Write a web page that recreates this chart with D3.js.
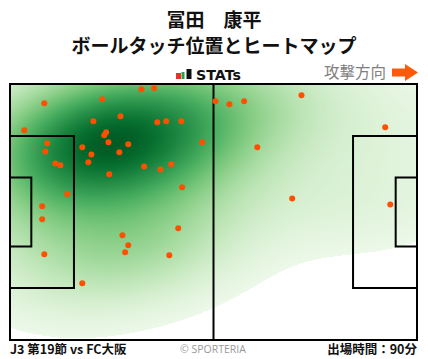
<!DOCTYPE html>
<html><head><meta charset="utf-8">
<script src="https://cdn.jsdelivr.net/npm/d3@7"></script>
<style>body{margin:0;background:#fff}svg{display:block}</style>
</head><body><svg id="c" width="428" height="359"></svg>
<script>
// ---- data (pitch coordinates in metres, 105 x 68, attacking to the right) ----
const titleLines = ["冨田　康平", "ボールタッチ位置とヒートマップ"];
const footerLeft = "J3 第19節 vs FC大阪";
const footerCenter = "© SPORTERIA";
const footerRight = "出場時間：90分";
const directionLabel = "攻撃方向";
const touchX = [8.85,23.8,33.9,37.2,3.69,21.5,28.5,38.0,40.3,44.2,24.8,24.3,25.4,30.5,9.6,9.1,18.65,21.0,28.2,20.2,11.7,13.0,34.6,38.8,41.6,49.6,25.6,44.4,14.8,8.3,8.3,53.0,56.6,60.4,75.2,96.8,63.8,72.8,98.1,29.0,30.5,29.7,43.4,8.85,41.1,18.65];
const touchY = [5.13,4.06,1.41,1.14,12.3,9.9,8.58,10.17,9.9,9.9,12.83,13.6,15.5,16.0,15.75,17.9,16.8,18.7,18.1,20.8,21.1,21.6,21.9,22.7,21.3,15.5,24.0,27.4,29.3,32.5,35.9,4.6,5.4,4.6,3.0,11.5,16.8,30.4,32.0,40.2,42.8,44.7,38.3,45.2,45.5,52.9];
const pitchLen = 105, pitchWid = 68;

const svg = d3.select("#c");
const x = d3.scaleLinear().domain([0, pitchLen]).range([10, 417]);
const y = d3.scaleLinear().domain([0, pitchWid]).range([84, 340]);
const JP = "'Noto Sans CJK JP','Noto Sans',sans-serif";

// ---- header ----
svg.selectAll("text.title").data(titleLines).join("text")
  .attr("x", 214).attr("y", (d,i)=> i===0 ? 27 : 53)
  .attr("text-anchor","middle").attr("font-family",JP).attr("font-weight",700)
  .attr("font-size",19).attr("fill","#111").text(d=>d);

// STATs logo
const logoBars = [{c:"#e8312a",h:6,w:5},{c:"#27a243",h:7,w:3},{c:"#111",h:10,w:5}];
let lx = 176;
logoBars.forEach((b,i)=>{
  svg.append("rect").attr("x",lx).attr("y",79-b.h).attr("width",b.w).attr("height",b.h).attr("fill",b.c);
  lx += b.w + (i===1?2:0.5);
});
svg.append("text").attr("x",196).attr("y",79.5).attr("font-family","'DejaVu Sans',sans-serif")
  .attr("font-weight",700).attr("font-size",14).attr("textLength",45).attr("lengthAdjust","spacingAndGlyphs")
  .attr("fill","#111").text("STATs");

svg.append("text").attr("x",386).attr("y",78).attr("text-anchor","end").attr("font-family",JP)
  .attr("font-size",15.5).attr("fill","#808080").text(directionLabel);
svg.append("path").attr("d","M392,68.5H405V64L418,72.5L405,81V76.5H392Z").attr("fill","#ff5a0a");

// ---- heatmap (gaussian KDE on the touches) ----
const px = touchX.map(x), py = touchY.map(y);
const n = px.length;
const mx = d3.mean(px), my = d3.mean(py);
let sxx=0, syy=0, sxy=0;
for (let i=0;i<n;i++){ const dx=px[i]-mx, dy=py[i]-my; sxx+=dx*dx; syy+=dy*dy; sxy+=dx*dy; }
sxx/=(n-1); syy/=(n-1); sxy/=(n-1);
const bwScale = 1.4;
const f2 = Math.pow(n, -2/6) * bwScale * bwScale;
const a = sxx*f2, b = sxy*f2, c = syy*f2;
const det = a*c - b*b;
const ia = c/det, ib = -b/det, ic = a/det;
const X0=10, Y0=84, PW=407, PH=256;
const canvas = document.createElement("canvas");
canvas.width = PW; canvas.height = PH;
const ctx = canvas.getContext("2d");
const img = ctx.createImageData(PW, PH);
const dens = new Float32Array(PW*PH);
let dmax = 0;
for (let j=0;j<PH;j++){
  for (let i=0;i<PW;i++){
    const gx = X0+i+0.5, gy = Y0+j+0.5;
    let s=0;
    for (let k=0;k<n;k++){
      const dx=gx-px[k], dy=gy-py[k];
      s += Math.exp(-0.5*(ia*dx*dx + 2*ib*dx*dy + ic*dy*dy));
    }
    dens[j*PW+i]=s; if (s>dmax) dmax=s;
  }
}
const thresh = 0.03;
for (let p=0;p<PW*PH;p++){
  const t = dens[p]/dmax;
  if (t < thresh) { img.data[p*4+3]=0; continue; }
  const u = (t - thresh)/(1-thresh);
  const col = d3.rgb(d3.interpolateGreens(0.07 + 0.86*Math.pow(u,0.85)));
  img.data[p*4]=col.r; img.data[p*4+1]=col.g; img.data[p*4+2]=col.b; img.data[p*4+3]=255;
}
ctx.putImageData(img,0,0);
svg.append("image").attr("x",X0).attr("y",Y0).attr("width",PW).attr("height",PH)
  .attr("href", canvas.toDataURL());

// ---- pitch lines ----
const lines = svg.append("g").attr("fill","none").attr("stroke","#000").attr("stroke-width",2);
lines.append("rect").attr("x",x(0)).attr("y",y(0)).attr("width",x(pitchLen)-x(0)).attr("height",y(pitchWid)-y(0));
lines.append("line").attr("x1",x(pitchLen/2)).attr("x2",x(pitchLen/2)).attr("y1",y(0)).attr("y2",y(pitchWid));
const boxes = [{d:16.5,w:40.32},{d:5.5,w:18.32}];
boxes.forEach(bx=>{
  const y1 = y((pitchWid-bx.w)/2), y2 = y((pitchWid+bx.w)/2);
  lines.append("path").attr("d",`M${x(0)},${y1}H${x(bx.d)}V${y2}H${x(0)}`);
  lines.append("path").attr("d",`M${x(pitchLen)},${y1}H${x(pitchLen-bx.d)}V${y2}H${x(pitchLen)}`);
});

// ---- touches ----
svg.append("g").selectAll("circle").data(touchX.map((d,i)=>[d,touchY[i]])).join("circle")
  .attr("cx",d=>x(d[0])).attr("cy",d=>y(d[1])).attr("r",3).attr("fill","#ff5000");

// ---- footer ----
svg.append("text").attr("x",10).attr("y",354).attr("font-family",JP).attr("font-weight",700)
  .attr("font-size",12.5).attr("fill","#111").text(footerLeft);
svg.append("text").attr("x",213).attr("y",353).attr("text-anchor","middle").attr("font-family","'Open Sans','Noto Sans',sans-serif")
  .attr("font-size",10.5).attr("fill","#999").text(footerCenter);
svg.append("text").attr("x",417).attr("y",354).attr("text-anchor","end").attr("font-family",JP).attr("font-weight",700)
  .attr("font-size",12.5).attr("fill","#111").text(footerRight);
</script></body></html>
